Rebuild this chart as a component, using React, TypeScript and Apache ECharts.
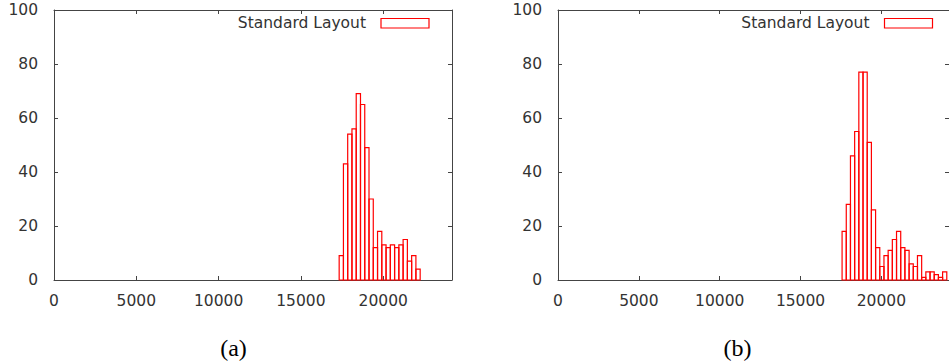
import React, { useEffect, useRef } from "react";
import * as echarts from "echarts";

// ---- data ----
const binWidth = 259;
const binStartA = 17325;
const countsA = [9, 43, 54, 56, 69, 65, 49, 30, 12, 18, 13, 12, 13, 12, 13, 15, 7, 9, 4];
const binStartB = 17568;
const countsB = [18, 28, 46, 55, 77, 77, 51, 26, 12, 5, 9, 11, 15, 18, 12, 11, 6, 5, 9, 1, 3, 3, 2, 1, 3];
const xTicks = { min: 0, max: 24180, interval: 5000 };
const yTicks = { min: 0, max: 100, interval: 20 };
const seriesName = "Standard Layout";
const captions = ["(a)", "(b)"];

const FONT = "DejaVu Sans";
const FRAME = "#444";
const RED = "#ff0000";

function bins(start: number, counts: number[]) {
  return counts.map((c, i) => [start + i * binWidth, start + (i + 1) * binWidth, c]);
}

export default function App() {
  const ref = useRef<HTMLDivElement>(null);
  useEffect(() => {
    if (!ref.current) return;
    const chart = echarts.init(ref.current, undefined, { renderer: "svg" });
    const grids = [
      { left: 54, top: 10, width: 398, height: 270 },
      { left: 558, top: 10, width: 398, height: 270 },
    ];
    const lineStyle = { color: FRAME, width: 1 };
    const xAxes: any[] = [];
    const yAxes: any[] = [];
    grids.forEach((_, gi) => {
      xAxes.push({
        gridIndex: gi, type: "value", position: "bottom", ...xTicks,
        axisLine: { show: true, onZero: false, lineStyle },
        axisTick: { show: true, inside: true, length: 4, lineStyle },
        axisLabel: {
          show: true, margin: 13, fontFamily: FONT, fontSize: 15.5, color: "#333", showMaxLabel: false,
          formatter: (v: number) => String(v),
        },
        splitLine: { show: false },
      });
      xAxes.push({
        gridIndex: gi, type: "value", position: "top", ...xTicks,
        axisLine: { show: true, onZero: false, lineStyle },
        axisTick: { show: true, inside: true, length: 4, lineStyle },
        axisLabel: { show: false },
        splitLine: { show: false },
      });
      yAxes.push({
        gridIndex: gi, type: "value", position: "left", ...yTicks,
        axisLine: { show: true, onZero: false, lineStyle },
        axisTick: { show: true, inside: true, length: 4, lineStyle },
        axisLabel: { show: true, margin: 16, fontFamily: FONT, fontSize: 15.5, color: "#333" },
        splitLine: { show: false },
      });
      yAxes.push({
        gridIndex: gi, type: "value", position: "right", ...yTicks,
        axisLine: { show: true, onZero: false, lineStyle },
        axisTick: { show: true, inside: true, length: 4, lineStyle },
        axisLabel: { show: false },
        splitLine: { show: false },
      });
    });

    const renderItem = (params: any, api: any) => {
      const x0 = api.value(0);
      const x1 = api.value(1);
      const v = api.value(2);
      const p0 = api.coord([x0, v]);
      const p1 = api.coord([x1, 0]);
      return {
        type: "rect",
        shape: { x: p0[0], y: p0[1], width: p1[0] - p0[0], height: p1[1] - p0[1] },
        style: { fill: "none", stroke: RED, lineWidth: 1.2 },
      };
    };

    const legend = (textRight: number, boxLeft: number) => [
      {
        type: "text", x: textRight, y: 23,
        style: { text: seriesName, font: `15.5px '${FONT}'`, fill: "#333", align: "right", verticalAlign: "middle" },
      },
      {
        type: "rect", x: boxLeft, y: 18.5,
        shape: { x: 0, y: 0, width: 48, height: 9.5 },
        style: { fill: "none", stroke: RED, lineWidth: 1.2 },
      },
    ];

    chart.setOption({
      animation: false,
      backgroundColor: "#fff",
      grid: grids,
      xAxis: xAxes,
      yAxis: yAxes,
      series: [
        { type: "custom", name: seriesName, xAxisIndex: 0, yAxisIndex: 0, renderItem, encode: { x: [0, 1], y: 2 }, data: bins(binStartA, countsA) },
        { type: "custom", name: seriesName, xAxisIndex: 2, yAxisIndex: 2, renderItem, encode: { x: [0, 1], y: 2 }, data: bins(binStartB, countsB) },
      ],
      graphic: [
        ...legend(366, 381),
        ...legend(869.5, 884.5),
        {
          type: "text", x: 233.5, y: 347.5,
          style: { text: captions[0], font: "24px 'Liberation Serif'", fill: "#000", align: "center", verticalAlign: "middle" },
        },
        {
          type: "text", x: 737.5, y: 347.5,
          style: { text: captions[1], font: "24px 'Liberation Serif'", fill: "#000", align: "center", verticalAlign: "middle" },
        },
      ],
    });
    return () => chart.dispose();
  }, []);
  return (
    <div style={{ position: "fixed", left: 0, top: 0, width: 949, height: 362, overflow: "hidden", background: "#fff" }}>
      <div ref={ref} style={{ width: 949, height: 362 }} />
    </div>
  );
}
